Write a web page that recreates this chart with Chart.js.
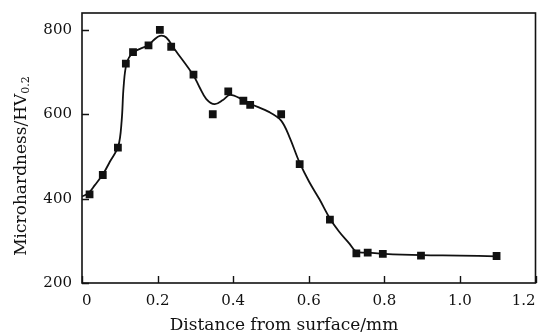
<!DOCTYPE html>
<html>
<head>
<meta charset="utf-8">
<script src="https://cdn.jsdelivr.net/npm/chart.js@4.4.1/dist/chart.umd.min.js"></script>
<style>
  body { margin: 0; background: #fff; }
  canvas { display: block; }
</style>
</head>
<body>
<canvas id="hardnessChart" width="541" height="334"></canvas>
<script>
// measured points (mm, HV0.2)
const pointX = [0.02, 0.055, 0.095, 0.116, 0.135, 0.176, 0.206, 0.236, 0.295, 0.346, 0.387, 0.427, 0.445, 0.527, 0.576, 0.656, 0.726, 0.756, 0.796, 0.897, 1.097];
const pointY = [410, 456, 521, 720, 747, 763, 800, 760, 694, 600, 654, 632, 622, 600, 482, 350, 270, 272, 269, 265, 264];

// fitted curve
const curveX = [0, 0.017, 0.034, 0.055, 0.074, 0.096, 0.105, 0.11, 0.118, 0.135, 0.176, 0.19, 0.206, 0.223, 0.245, 0.295, 0.311, 0.329, 0.351, 0.373, 0.392, 0.427, 0.445, 0.496, 0.527, 0.549, 0.575, 0.601, 0.628, 0.656, 0.68, 0.707, 0.726, 0.759, 0.8, 0.9, 1.0, 1.097];
const curveY = [405, 413, 432, 457, 488, 524, 585, 664, 720, 746, 764, 776, 786, 782, 754, 692, 664, 636, 624, 634, 646, 634, 625, 605, 585, 546, 487, 440, 399, 353, 322, 294, 274, 272, 269, 266, 265, 263];

const xTicks = [0, 0.2, 0.4, 0.6, 0.8, 1.0, 1.2];
const yTicks = [200, 400, 600, 800];

const ink = '#111';
const serif = "'DejaVu Serif', 'Liberation Serif', serif";

// frame, inward ticks and both axis titles
const framePlugin = {
    id: 'frame',
    afterDraw(chart) {
        const ctx = chart.ctx;
        const area = chart.chartArea;
        const xs = chart.scales.x;
        const ys = chart.scales.y;
        ctx.save();
        ctx.strokeStyle = ink;
        ctx.lineWidth = 1.6;
        ctx.strokeRect(area.left, area.top, area.right - area.left, area.bottom - area.top);
        ctx.lineWidth = 1.4;
        ctx.beginPath();
        xTicks.forEach(v => {
            const px = Math.round(xs.getPixelForValue(v)) + 0.5;
            ctx.moveTo(px, area.bottom);
            ctx.lineTo(px, area.bottom - 7);
        });
        yTicks.forEach(v => {
            const py = Math.round(ys.getPixelForValue(v)) + 0.5;
            ctx.moveTo(area.left, py);
            ctx.lineTo(area.left + 7, py);
        });
        ctx.stroke();

        ctx.fillStyle = ink;

        // x title
        ctx.font = '17px ' + serif;
        ctx.textAlign = 'center';
        ctx.textBaseline = 'alphabetic';
        ctx.fillText('Distance from surface/mm', 284, 330);

        // y title, HV with subscript 0.2
        const main = 'Microhardness/HV';
        const sub = '0.2';
        ctx.translate(20, 166);
        ctx.rotate(-Math.PI / 2);
        ctx.font = '17px ' + serif;
        const w1 = ctx.measureText(main).width;
        ctx.font = '11px ' + serif;
        const w2 = ctx.measureText(sub).width;
        const start = -(w1 + w2) / 2;
        ctx.textAlign = 'left';
        ctx.font = '17px ' + serif;
        ctx.fillText(main, start, 6);
        ctx.font = '11px ' + serif;
        ctx.fillText(sub, start + w1, 9);
        ctx.restore();
    }
};

new Chart(document.getElementById('hardnessChart'), {
    type: 'scatter',
    data: {
        datasets: [
            {
                label: 'fit',
                data: curveX.map((x, i) => ({ x: x, y: curveY[i] })),
                showLine: true,
                borderColor: ink,
                borderWidth: 1.8,
                pointRadius: 0,
                tension: 0.35,
                order: 2
            },
            {
                label: 'measured',
                data: pointX.map((x, i) => ({ x: x, y: pointY[i] })),
                showLine: false,
                pointStyle: 'rect',
                pointRadius: 5.5,
                backgroundColor: ink,
                borderColor: ink,
                borderWidth: 0,
                order: 1
            }
        ]
    },
    options: {
        responsive: false,
        animation: false,
        layout: { padding: { top: 13, right: 5, left: 0, bottom: 0 } },
        plugins: {
            legend: { display: false },
            tooltip: { enabled: false }
        },
        scales: {
            x: {
                type: 'linear',
                min: 0,
                max: 1.2,
                grid: { display: false, drawTicks: false },
                border: { display: false },
                afterBuildTicks: axis => { axis.ticks = xTicks.map(v => ({ value: v })); },
                afterFit: axis => {
                    axis.height = 51;
                    axis.paddingLeft = 0;
                    axis.paddingRight = 0;
                },
                ticks: {
                    color: ink,
                    font: { family: serif, size: 15 },
                    padding: 9,
                    align: 'inner',
                    maxRotation: 0,
                    callback: v => (v === 0 ? '0' : v.toFixed(1))
                }
            },
            y: {
                min: 200,
                max: 840,
                grid: { display: false, drawTicks: false },
                border: { display: false },
                afterBuildTicks: axis => { axis.ticks = yTicks.map(v => ({ value: v })); },
                afterFit: axis => {
                    axis.width = 82;
                    axis.paddingTop = 0;
                    axis.paddingBottom = 0;
                },
                ticks: {
                    color: ink,
                    font: { family: serif, size: 15 },
                    padding: 10
                }
            }
        }
    },
    plugins: [framePlugin]
});
</script>
</body>
</html>
